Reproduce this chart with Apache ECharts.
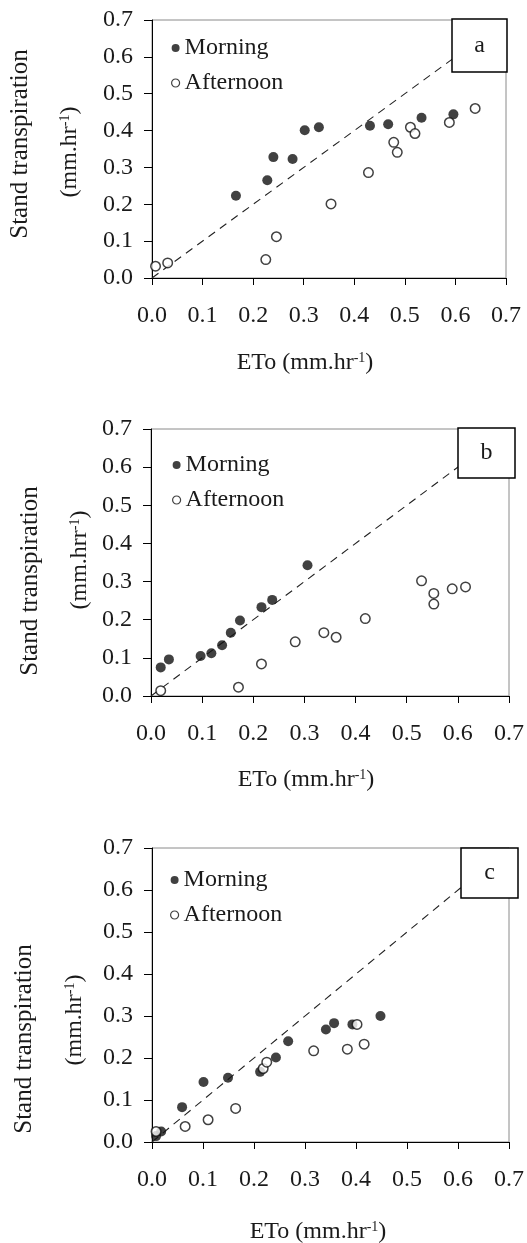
<!DOCTYPE html>
<html><head><meta charset="utf-8">
<script src="https://cdn.jsdelivr.net/npm/echarts@6/dist/echarts.min.js"></script>
<style>html,body{margin:0;padding:0;background:#fff}#c{width:527px;height:1243px}</style>
</head><body><div id="c"></div>
<script>
// ---------- data ----------
const panelLabels = ['a', 'b', 'c'];
const seriesNames = ['Morning', 'Afternoon'];
const yTitles = ['(mm.hr{sup|-1})', '(mm.hrr{sup|-1})', '(mm.hr{sup|-1})'];
const axisMin = 0, axisMax = 0.7, axisStep = 0.1;

const aMorningX   = [0.166, 0.228, 0.240, 0.278, 0.302, 0.330, 0.431, 0.467, 0.533, 0.596];
const aMorningY   = [0.223, 0.265, 0.328, 0.323, 0.401, 0.409, 0.413, 0.417, 0.435, 0.444];
const aAfternoonX = [0.007, 0.031, 0.225, 0.246, 0.354, 0.428, 0.478, 0.485, 0.511, 0.520, 0.588, 0.639];
const aAfternoonY = [0.032, 0.041, 0.050, 0.112, 0.201, 0.286, 0.368, 0.341, 0.409, 0.392, 0.422, 0.460];

const bMorningX   = [0.019, 0.035, 0.097, 0.118, 0.139, 0.156, 0.174, 0.216, 0.237, 0.306];
const bMorningY   = [0.075, 0.096, 0.105, 0.112, 0.133, 0.166, 0.198, 0.233, 0.252, 0.343];
const bAfternoonX = [0.019, 0.171, 0.216, 0.282, 0.338, 0.362, 0.419, 0.529, 0.553, 0.553, 0.589, 0.615];
const bAfternoonY = [0.014, 0.023, 0.084, 0.142, 0.166, 0.154, 0.203, 0.302, 0.269, 0.241, 0.281, 0.286];

const cMorningX   = [0.008, 0.018, 0.059, 0.101, 0.149, 0.212, 0.243, 0.267, 0.341, 0.357, 0.393, 0.448];
const cMorningY   = [0.014, 0.025, 0.083, 0.143, 0.153, 0.167, 0.201, 0.240, 0.268, 0.283, 0.280, 0.300];
const cAfternoonX = [0.008, 0.065, 0.110, 0.164, 0.218, 0.225, 0.317, 0.383, 0.402, 0.416];
const cAfternoonY = [0.025, 0.037, 0.053, 0.080, 0.175, 0.190, 0.217, 0.221, 0.280, 0.233];

const oneToOneX = [0, 0.7];
const oneToOneY = [0, 0.7];

// ---------- layout ----------
const FONT = '"Liberation Serif", "Times New Roman", serif';
const grids = [
  {left: 152, top: 20,  width: 354, height: 258},
  {left: 151, top: 429, width: 364, height: 267},
  {left: 152, top: 848, width: 368, height: 294}
];
const boxes = [
  {x: 452, y: 19,  w: 55, h: 53},
  {x: 458, y: 428, w: 57, h: 50},
  {x: 461, y: 848, w: 57, h: 50}
];
const legendPos = [
  {left: 166, top: 31,  textPad: 0},
  {left: 167, top: 448, textPad: 0},
  {left: 165, top: 863, textPad: 0}
];
const yTitle1Pos = [[20, 144], [30, 581], [24, 1039]];
const yTitle2Pos = [[70, 152], [80, 560], [75, 1020]];
const xTitlePos  = [[305, 363], [306, 780], [318, 1232]];

const panelData = [
  [aMorningX, aMorningY, aAfternoonX, aAfternoonY],
  [bMorningX, bMorningY, bAfternoonX, bAfternoonY],
  [cMorningX, cMorningY, cAfternoonX, cAfternoonY]
];
const zip = (xs, ys) => xs.map((x, i) => [x, ys[i]]);

const option = {
  animation: false,
  backgroundColor: '#fff',
  textStyle: {fontFamily: FONT},
  grid: grids.map(g => ({...g, show: true, borderColor: '#8a8a8a', borderWidth: 1, backgroundColor: 'transparent', containLabel: false})),
  xAxis: grids.map((g, i) => ({
    type: 'value', gridIndex: i, min: axisMin, max: axisMax, interval: axisStep,
    axisLine: {show: true, lineStyle: {color: '#000', width: 1}},
    axisTick: {show: true, inside: false, length: 7, lineStyle: {color: '#000'}},
    axisLabel: {fontFamily: FONT, fontSize: 24, color: '#1a1a1a', margin: 26, formatter: v => v.toFixed(1), showMinLabel: true, showMaxLabel: true, hideOverlap: false},
    splitLine: {show: false}
  })),
  yAxis: grids.map((g, i) => ({
    type: 'value', gridIndex: i, min: axisMin, max: axisMax, interval: axisStep,
    axisLine: {show: true, lineStyle: {color: '#000', width: 1}},
    axisTick: {show: true, inside: false, length: 8, lineStyle: {color: '#000'}},
    axisLabel: {fontFamily: FONT, fontSize: 24, color: '#1a1a1a', margin: 19, formatter: v => v.toFixed(1)},
    splitLine: {show: false}
  })),
  legend: legendPos.map(p => ({
    left: p.left, top: p.top, orient: 'vertical', itemWidth: 8, itemHeight: 8, itemGap: 11,
    icon: 'circle', selectedMode: false,
    data: [
      {name: 'Morning', itemStyle: {color: '#111', borderWidth: 0}},
      {name: 'Afternoon', itemStyle: {color: '#fff', borderColor: '#111', borderWidth: 1.2}}
    ],
    textStyle: {fontFamily: FONT, fontSize: 24, color: '#1a1a1a', lineHeight: 24, padding: [0, 0, 0, p.textPad]}
  })),
  series: [],
  graphic: []
};

panelData.forEach((d, i) => {
  option.series.push({
    type: 'line', xAxisIndex: i, yAxisIndex: i, data: zip(oneToOneX, oneToOneY),
    symbol: 'none', silent: true, z: 1,
    lineStyle: {color: '#222', width: 1.1, type: [8, 6]}
  });
  option.series.push({
    name: seriesNames[0], type: 'scatter', xAxisIndex: i, yAxisIndex: i, data: zip(d[0], d[1]),
    symbol: 'circle', symbolSize: 10, itemStyle: {color: '#111'}, z: 3
  });
  option.series.push({
    name: seriesNames[1], type: 'scatter', xAxisIndex: i, yAxisIndex: i, data: zip(d[2], d[3]),
    symbol: 'circle', symbolSize: 9.5, itemStyle: {color: '#fff', borderColor: '#111', borderWidth: 1.5}, z: 4
  });
  const b = boxes[i];
  option.graphic.push({
    type: 'rect', z: 100, shape: {x: b.x, y: b.y, width: b.w, height: b.h},
    style: {fill: '#fff', stroke: '#000', lineWidth: 1.5}
  });
  option.graphic.push({
    type: 'text', z: 101, x: b.x + b.w / 2, y: b.y + b.h / 2,
    style: {text: panelLabels[i], font: '24px ' + FONT, fill: '#1a1a1a', align: 'center', verticalAlign: 'middle'}
  });
  option.graphic.push({
    type: 'text', z: 101, x: yTitle1Pos[i][0], y: yTitle1Pos[i][1], rotation: Math.PI / 2,
    style: {text: 'Stand transpiration', font: '25px ' + FONT, fill: '#1a1a1a', align: 'center', verticalAlign: 'middle'}
  });
  option.graphic.push({
    type: 'text', z: 101, x: yTitle2Pos[i][0], y: yTitle2Pos[i][1], rotation: Math.PI / 2,
    style: {text: yTitles[i], font: '24px ' + FONT, fill: '#1a1a1a', align: 'center', verticalAlign: 'middle',
      rich: {sup: {fontSize: 14, fontFamily: FONT, fill: '#1a1a1a', verticalAlign: 'top', padding: [0, 0, 10, 0]}}}
  });
  option.graphic.push({
    type: 'text', z: 101, x: xTitlePos[i][0], y: xTitlePos[i][1],
    style: {text: 'ETo (mm.hr{sup|-1})', font: '24px ' + FONT, fill: '#1a1a1a', align: 'center', verticalAlign: 'middle',
      rich: {sup: {fontSize: 14, fontFamily: FONT, fill: '#1a1a1a', verticalAlign: 'top', padding: [0, 0, 10, 0]}}}
  });
});

const chart = echarts.init(document.getElementById('c'), null, {renderer: 'canvas'});
chart.setOption(option);
</script>
</body></html>
